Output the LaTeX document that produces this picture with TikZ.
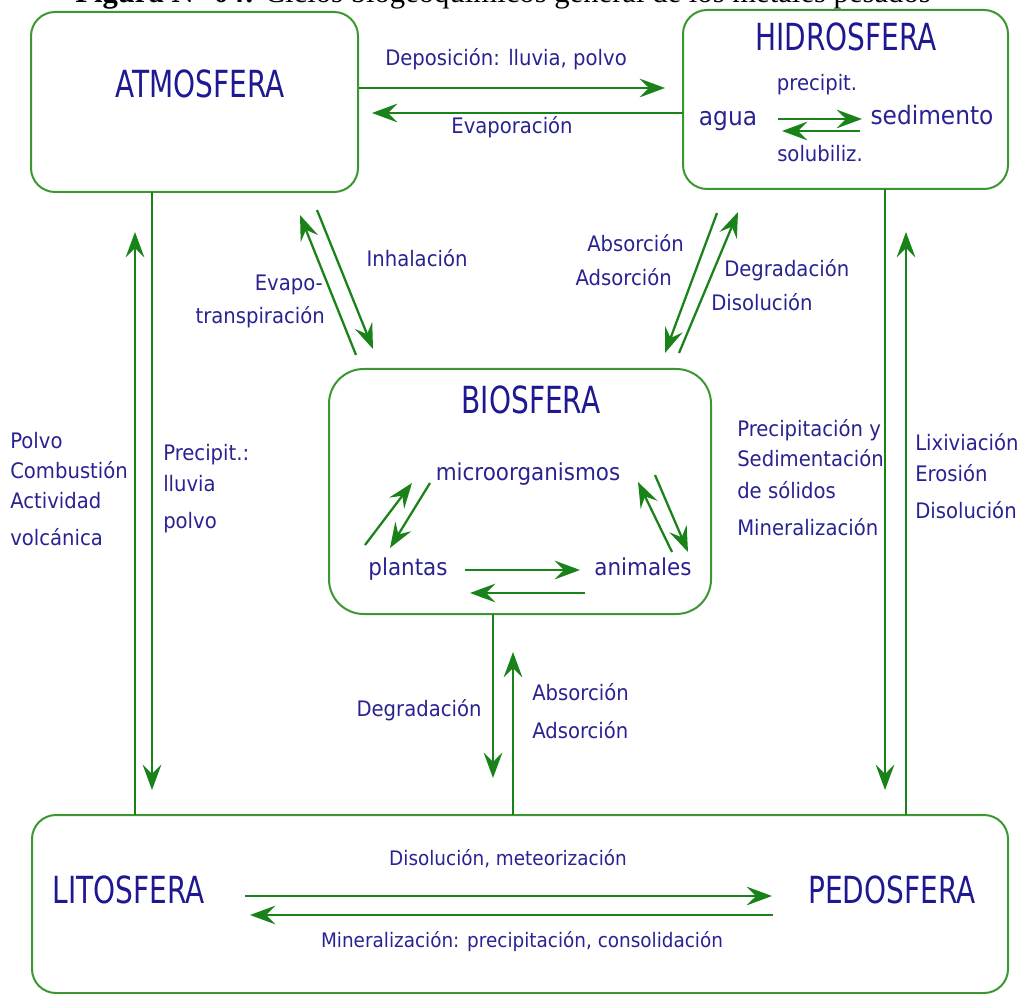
\documentclass[tikz,border=0pt]{standalone}
\usepackage{fontspec}
\setmainfont{DejaVu Sans}
\newfontfamily\labfont[FakeStretch=0.92]{DejaVu Sans}
\newfontfamily\ttlfont[FakeStretch=0.75]{DejaVu Sans}
\newfontfamily\capfont{Liberation Serif}
\usetikzlibrary{arrows.meta}
\definecolor{boxgreen}{RGB}{60,150,50}
\definecolor{arrgreen}{RGB}{25,130,25}
\definecolor{txtblue}{RGB}{40,35,145}
\definecolor{ttlblue}{RGB}{30,25,145}
\begin{document}
\begin{tikzpicture}[x=0.75pt,y=-0.75pt,
  box/.style={draw=boxgreen,line width=1.5pt,rounded corners=18pt,inner sep=0pt,outer sep=0pt,rectangle},
  ttl/.style={font=\ttlfont\fontsize{28}{32}\selectfont,text=ttlblue,inner sep=0pt},
  lab/.style={font=\labfont\fontsize{16}{19}\selectfont,text=txtblue,inner sep=0pt},
  labs/.style={font=\labfont\fontsize{15}{18}\selectfont,text=txtblue,inner sep=0pt},
  labb/.style={font=\labfont\fontsize{17.5}{20}\selectfont,text=txtblue,inner sep=0pt},
  labh/.style={font=\labfont\fontsize{19}{22}\selectfont,text=txtblue,inner sep=0pt},
  flow/.style={draw=arrgreen,line width=1.7pt,-{Stealth[length=19pt,width=14pt,inset=7pt]}}
]
\useasboundingbox (0,0) rectangle (1023,994);

% caption (cut off at the top edge)
\node[font=\capfont\fontsize{23}{26}\selectfont,anchor=base,inner sep=0pt] (caption) at (503,3)
  {\textbf{Figura N° 04:} Ciclos biogeoquímicos general de los metales pesados};

% boxes
\node[box,minimum width=245.25pt,minimum height=135pt] (atm) at (194.5,102) {};
\node[box,minimum width=243.75pt,minimum height=134.25pt] (hid) at (845.5,99.5) {};
\node[box,rounded corners=26pt,minimum width=286.5pt,minimum height=183.75pt] (bio) at (520,491.5) {};
\node[box,minimum width=732pt,minimum height=133.5pt] (lp) at (520,904) {};

% titles
\node[ttl,anchor=mid] (tatm) at (200,94) {ATMOSFERA};
\node[ttl,anchor=mid] (thid) at (846,47) {HIDROSFERA};
\node[ttl,anchor=mid] (tbio) at (531,410) {BIOSFERA};
\node[ttl,anchor=mid] (tlit) at (129,900) {LITOSFERA};
\node[ttl,anchor=mid] (tped) at (892,900) {PEDOSFERA};

% hydrosphere internals
\node[labh,anchor=mid] (agua) at (728,122) {agua};
\node[labh,anchor=mid] (sedi) at (932,121) {sedimento};
\node[lab,anchor=mid] (prec) at (817,87) {precipit.};
\node[lab,anchor=mid] (solu) at (820,158) {solubiliz.};

% biosphere internals
\node[labb,anchor=mid] (micro) at (528,477) {microorganismos};
\node[labb,anchor=mid] (plan) at (408,572) {plantas};
\node[labb,anchor=mid] (anim) at (643,572) {animales};

% labels
\node[lab,anchor=mid] (ldep) at (506,62) {Deposición: lluvia, polvo};
\node[lab,anchor=mid] (leva) at (512,130) {Evaporación};
\node[lab,anchor=mid] (linh) at (417,263) {Inhalación};
\node[lab,anchor=mid east] (levp1) at (323,287) {Evapo-};
\node[lab,anchor=mid east] (levp2) at (325,320) {transpiración};
\node[lab,anchor=mid east] (labs1) at (684,248) {Absorción};
\node[lab,anchor=mid east] (labs2) at (672,282) {Adsorción};
\node[lab,anchor=mid west] (ldeg1) at (724,273) {Degradación};
\node[lab,anchor=mid west] (ldeg2) at (711,307) {Disolución};

\node[lab,anchor=mid west] (lp1) at (10,445) {Polvo};
\node[lab,anchor=mid west] (lp2) at (10,475) {Combustión};
\node[lab,anchor=mid west] (lp3) at (10,505) {Actividad};
\node[lab,anchor=mid west] (lp4) at (10,542) {volcánica};
\node[lab,anchor=mid west] (lq1) at (163,457) {Precipit.:};
\node[lab,anchor=mid west] (lq2) at (163,488) {lluvia};
\node[lab,anchor=mid west] (lq3) at (163,525) {polvo};

\node[lab,anchor=mid west] (lr1) at (737,433) {Precipitación y};
\node[lab,anchor=mid west] (lr2) at (737,463) {Sedimentación};
\node[lab,anchor=mid west] (lr3) at (737,495) {de sólidos};
\node[lab,anchor=mid west] (lr4) at (737,532) {Mineralización};
\node[lab,anchor=mid west] (ls1) at (915,447) {Lixiviación};
\node[lab,anchor=mid west] (ls2) at (915,478) {Erosión};
\node[lab,anchor=mid west] (ls3) at (915,515) {Disolución};

\node[lab,anchor=mid] (lbdeg) at (419,713) {Degradación};
\node[lab,anchor=mid west] (lbab1) at (532,697) {Absorción};
\node[lab,anchor=mid west] (lbab2) at (532,735) {Adsorción};

\node[labs,anchor=mid] (ldis) at (508,862) {Disolución, meteorización};
\node[labs,anchor=mid] (lmin) at (522,944) {Mineralización: precipitación, consolidación};

% arrow end points
\coordinate (ah1) at (359,88);  \coordinate (ah2) at (665,88);
\coordinate (ha1) at (683,113); \coordinate (ha2) at (372,113);
\coordinate (w1) at (778,119);  \coordinate (w2) at (862,119);
\coordinate (s1) at (860,131);  \coordinate (s2) at (782,131);
\coordinate (la1) at (135,815); \coordinate (la2) at (135,232);
\coordinate (al1) at (152,192); \coordinate (al2) at (152,790);
\coordinate (hl1) at (885,189); \coordinate (hl2) at (885,790);
\coordinate (lh1) at (906,815); \coordinate (lh2) at (906,232);
\coordinate (ba1) at (356,355); \coordinate (ba2) at (300,215);
\coordinate (ab1) at (317,210); \coordinate (ab2) at (373,349);
\coordinate (hb1) at (717,213); \coordinate (hb2) at (665,353);
\coordinate (bh1) at (679,353); \coordinate (bh2) at (738,212);
\coordinate (pa1) at (465,570); \coordinate (pa2) at (580,570);
\coordinate (ap1) at (585,593); \coordinate (ap2) at (470,593);
\coordinate (pm1) at (365,545); \coordinate (pm2) at (412,483);
\coordinate (mp1) at (430,483); \coordinate (mp2) at (390,548);
\coordinate (am1) at (672,552); \coordinate (am2) at (638,482);
\coordinate (ma1) at (655,475); \coordinate (ma2) at (688,552);
\coordinate (bl1) at (493,614); \coordinate (bl2) at (493,778);
\coordinate (lb1) at (513,815); \coordinate (lb2) at (513,652);
\coordinate (lpr1) at (245,896); \coordinate (lpr2) at (772,896);
\coordinate (lpl1) at (773,915); \coordinate (lpl2) at (250,915);

% arrows
\draw[flow] (ah1) -- (ah2);
\draw[flow] (ha1) -- (ha2);
\draw[flow] (w1) -- (w2);
\draw[flow] (s1) -- (s2);
\draw[flow] (la1) -- (la2);
\draw[flow] (al1) -- (al2);
\draw[flow] (hl1) -- (hl2);
\draw[flow] (lh1) -- (lh2);
\draw[flow] (ba1) -- (ba2);
\draw[flow] (ab1) -- (ab2);
\draw[flow] (hb1) -- (hb2);
\draw[flow] (bh1) -- (bh2);
\draw[flow] (pa1) -- (pa2);
\draw[flow] (ap1) -- (ap2);
\draw[flow] (pm1) -- (pm2);
\draw[flow] (mp1) -- (mp2);
\draw[flow] (am1) -- (am2);
\draw[flow] (ma1) -- (ma2);
\draw[flow] (bl1) -- (bl2);
\draw[flow] (lb1) -- (lb2);
\draw[flow] (lpr1) -- (lpr2);
\draw[flow] (lpl1) -- (lpl2);
\end{tikzpicture}
\end{document}
